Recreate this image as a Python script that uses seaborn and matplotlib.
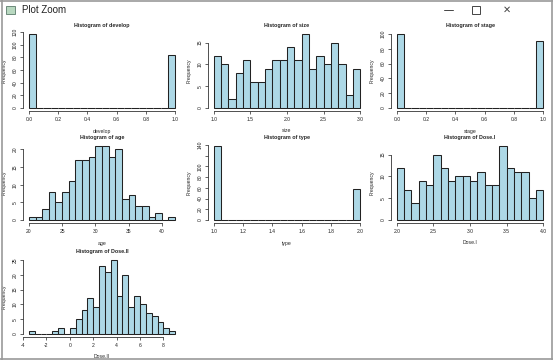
import numpy as np
import pandas as pd
import seaborn as sns
import matplotlib.pyplot as plt
from matplotlib.lines import Line2D
from matplotlib.patches import Rectangle

# counts per bin
develop_values = [0, 1]
develop_counts = [117, 83]
develop_edges = np.linspace(0, 1, 21)

size_counts = [12, 10, 2, 8, 11, 6, 6, 9, 11, 11, 14, 11, 17, 9, 12, 10, 15, 10, 3, 9]
size_edges = np.linspace(1.0, 3.0, 21)

stage_values = [0, 1]
stage_counts = [100, 91]
stage_edges = np.linspace(0, 1, 21)

age_counts = [1, 1, 3, 8, 5, 8, 11, 17, 17, 18, 21, 21, 18, 20, 6, 7, 4, 4, 1, 2, 0, 1]
age_edges = np.arange(20, 43)

type_values = [1, 2]
type_counts = [138, 58]
type_edges = np.linspace(1, 2, 21)

dose1_counts = [12, 7, 4, 9, 8, 15, 12, 9, 10, 10, 9, 11, 8, 8, 17, 12, 11, 11, 5, 7]
dose1_edges = np.linspace(2.0, 4.0, 21)

dose2_counts = [1, 0, 0, 0, 1, 2, 0, 2, 5, 8, 12, 9, 23, 21, 25, 13, 20, 9, 13, 10, 7, 6, 4, 2, 1]
dose2_edges = np.linspace(-3.5, 9.0, 26)


def mids(edges):
    return (edges[:-1] + edges[1:]) / 2


panels = [
    ('develop', develop_values, develop_counts, develop_edges, np.arange(0, 1.01, 0.2), '{:.1f}', np.arange(0, 121, 20)),
    ('size', mids(size_edges), size_counts, size_edges, np.arange(1.0, 3.01, 0.5), '{:.1f}', np.arange(0, 16, 5)),
    ('stage', stage_values, stage_counts, stage_edges, np.arange(0, 1.01, 0.2), '{:.1f}', np.arange(0, 101, 20)),
    ('age', mids(age_edges), age_counts, age_edges, np.arange(20, 41, 5), '{:.0f}', np.arange(0, 21, 5)),
    ('type', type_values, type_counts, type_edges, np.arange(1.0, 2.01, 0.2), '{:.1f}', np.arange(0, 141, 20)),
    ('Dose.I', mids(dose1_edges), dose1_counts, dose1_edges, np.arange(2.0, 4.01, 0.5), '{:.1f}', np.arange(0, 16, 5)),
    ('Dose.II', mids(dose2_edges), dose2_counts, dose2_edges, np.arange(-4, 9, 2), '{:.0f}', np.arange(0, 26, 5)),
]

sns.set_style('white')
plt.rcParams['font.family'] = ['Liberation Sans', 'DejaVu Sans']
plt.rcParams['axes.unicode_minus'] = False

W, H = 553, 360
fig = plt.figure(figsize=(W / 100, H / 100), dpi=100)

col_left = [23, 208, 391]
row_top = [31, 143, 257]
ax_w, ax_h = 158, 80

for i, (name, xs, cnt, edges, xt, fmt, yt) in enumerate(panels):
    r, c = divmod(i, 3)
    ax = fig.add_axes([col_left[c] / W, 1 - (row_top[r] + ax_h) / H, ax_w / W, ax_h / H])
    # rebuild one observation per count so seaborn does the binning
    obs = pd.DataFrame({name: np.repeat(np.asarray(xs, dtype=float), cnt)})
    sns.histplot(data=obs, x=name, bins=[float(e) for e in edges], ax=ax, color='#ADD8E6',
                 alpha=1, edgecolor='#222222', linewidth=0.75)
    # R style 4% padding around data range
    x0, x1 = edges[0], edges[-1]
    dx = (x1 - x0) * 0.04
    ymax = max(cnt)
    ax.set_xlim(x0 - dx, x1 + dx)
    ax.set_ylim(-ymax * 0.04, ymax * 1.04)
    ax.set_xticks(xt)
    ax.set_xticklabels([fmt.format(v) for v in xt])
    ylabels = [str(v) for v in yt]
    if name == 'type':
        ylabels[6] = ''
    ax.set_yticks(yt)
    ax.set_yticklabels(ylabels, rotation=90, va='center')
    for s in ['top', 'right']:
        ax.spines[s].set_visible(False)
    ax.spines['left'].set_bounds(yt[0], yt[-1])
    ax.spines['bottom'].set_bounds(xt[0], xt[-1])
    for s in ['left', 'bottom']:
        ax.spines[s].set_linewidth(0.6)
        ax.spines[s].set_color('#333333')
    ax.tick_params(axis='both', which='both', direction='out', length=2, width=0.5,
                   labelsize=3.6, pad=2, colors='#222222', left=True, bottom=True)
    ax.set_title('Histogram of ' + name, fontsize=3.9, fontweight='bold', pad=3)
    ax.set_xlabel(name, fontsize=3.7, labelpad=5)
    ax.set_ylabel('Frequency', fontsize=3.7, labelpad=4)

# window frame of the R "Plot Zoom" viewer
fig.text(22 / W, 1 - 10 / H, 'Plot Zoom', fontsize=7, va='center', ha='left', color='#222222')
fig.patches.append(Rectangle((6 / W, 1 - 14 / H), 9 / W, 8 / H, transform=fig.transFigure,
                             facecolor='#b8d8c0', edgecolor='#5a7a6a', linewidth=0.6))
fig.lines.append(Line2D([444 / W, 453 / W], [1 - 10 / H, 1 - 10 / H], transform=fig.transFigure,
                        color='#444444', linewidth=0.7))
fig.patches.append(Rectangle((472 / W, 1 - 14 / H), 8 / W, 8 / H, transform=fig.transFigure,
                             facecolor='none', edgecolor='#444444', linewidth=0.7))
fig.text(507 / W, 1 - 10 / H, '✕', fontsize=7, ha='center', va='center', color='#444444',
         family='DejaVu Sans')
for xy in [([1.5 / W, 1.5 / W], [0, 1]), ([1 - 1.5 / W, 1 - 1.5 / W], [0, 1]),
           ([0, 1], [1.5 / H, 1.5 / H]), ([0, 1], [1 - 1 / H, 1 - 1 / H])]:
    fig.lines.append(Line2D(xy[0], xy[1], transform=fig.transFigure, color='#9a9a9a', linewidth=1.2))

fig.savefig('out.png', dpi=100)
